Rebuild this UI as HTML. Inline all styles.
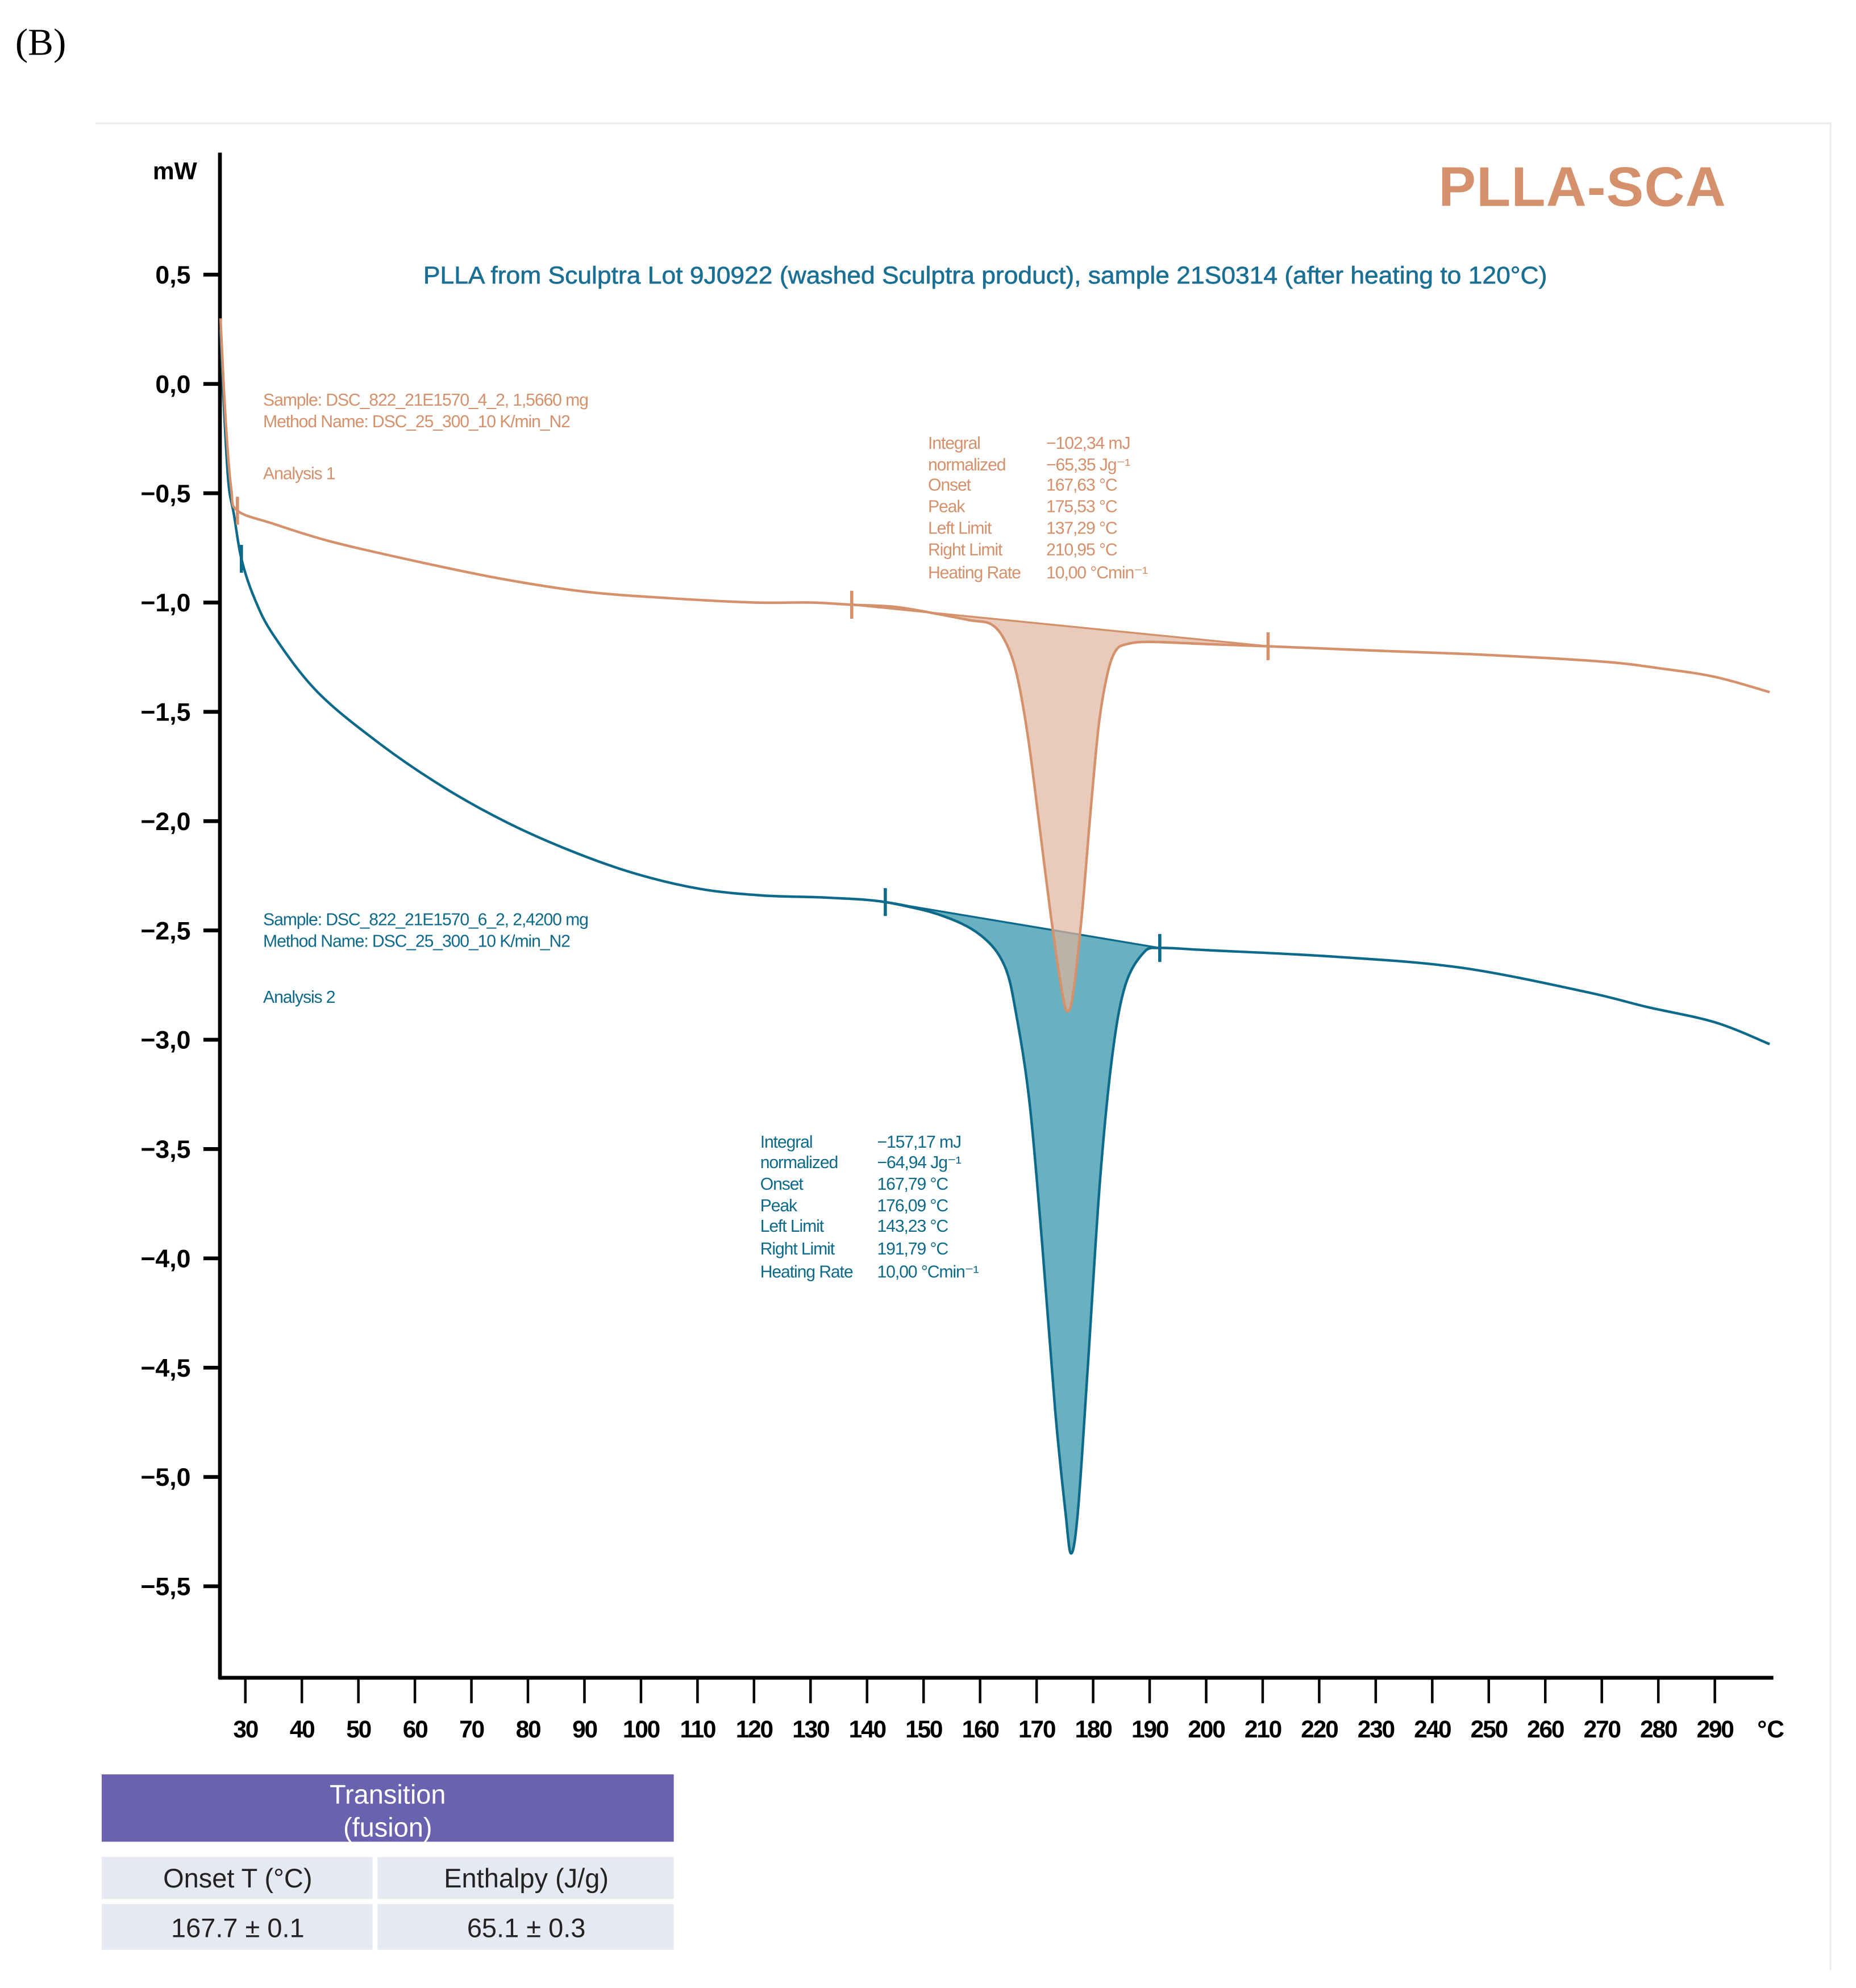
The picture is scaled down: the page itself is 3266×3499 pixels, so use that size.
<!DOCTYPE html>
<html><head><meta charset="utf-8"><style>
html,body{margin:0;padding:0;background:#fff;}
svg{display:block;}
text{font-family:"Liberation Sans",sans-serif;}
</style></head><body>
<svg id="chart" width="3266" height="3499" viewBox="0 0 1460 1564" xmlns="http://www.w3.org/2000/svg">
<text x="12" y="43" font-size="30" style="font-family:'Liberation Serif',serif">(B)</text>
<path d="M75 97 H1440 V1550" fill="none" stroke="#eeeeee" stroke-width="1.5"/>
<text x="1358" y="162" text-anchor="end" font-size="44" font-weight="bold" fill="#d4916b" letter-spacing="0.5">PLLA-SCA</text>
<text x="775" y="223" text-anchor="middle" font-size="19" fill="#1a6f94" stroke="#1a6f94" stroke-width="0.3" textLength="884" lengthAdjust="spacingAndGlyphs">PLLA from Sculptra Lot 9J0922 (washed Sculptra product), sample 21S0314 (after heating to 120°C)</text>
<g id="axes"></g>
<g id="series"></g>
<g font-size="13.5" fill="#d4916b" letter-spacing="-0.5">
<text x="207" y="319">Sample: DSC_822_21E1570_4_2, 1,5660 mg</text>
<text x="207" y="336">Method Name: DSC_25_300_10 K/min_N2</text>
<text x="207" y="377">Analysis 1</text>
</g>
<g font-size="13.5" fill="#d4916b" letter-spacing="-0.5">
<text x="730" y="353">Integral</text><text x="823" y="353">−102,34 mJ</text>
<text x="730" y="370">normalized</text><text x="823" y="370">−65,35 Jg⁻¹</text>
<text x="730" y="386">Onset</text><text x="823" y="386">167,63 °C</text>
<text x="730" y="403">Peak</text><text x="823" y="403">175,53 °C</text>
<text x="730" y="420">Left Limit</text><text x="823" y="420">137,29 °C</text>
<text x="730" y="437">Right Limit</text><text x="823" y="437">210,95 °C</text>
<text x="730" y="455">Heating Rate</text><text x="823" y="455">10,00 °Cmin⁻¹</text>
</g>
<g font-size="13.5" fill="#0e6a8a" letter-spacing="-0.5">
<text x="207" y="728">Sample: DSC_822_21E1570_6_2, 2,4200 mg</text>
<text x="207" y="745">Method Name: DSC_25_300_10 K/min_N2</text>
<text x="207" y="789">Analysis 2</text>
</g>
<g font-size="13.5" fill="#0e6a8a" letter-spacing="-0.5">
<text x="598" y="903">Integral</text><text x="690" y="903">−157,17 mJ</text>
<text x="598" y="919">normalized</text><text x="690" y="919">−64,94 Jg⁻¹</text>
<text x="598" y="936">Onset</text><text x="690" y="936">167,79 °C</text>
<text x="598" y="953">Peak</text><text x="690" y="953">176,09 °C</text>
<text x="598" y="969">Left Limit</text><text x="690" y="969">143,23 °C</text>
<text x="598" y="987">Right Limit</text><text x="690" y="987">191,79 °C</text>
<text x="598" y="1005">Heating Rate</text><text x="690" y="1005">10,00 °Cmin⁻¹</text>
</g>
<g>
<rect x="80" y="1396" width="450" height="53" fill="#6a62ae"/>
<text x="305" y="1419" text-anchor="middle" font-size="21" fill="#fff">Transition</text>
<text x="305" y="1445" text-anchor="middle" font-size="21" fill="#fff">(fusion)</text>
<rect x="80" y="1461" width="213" height="33" fill="#e6e8f2"/>
<rect x="297" y="1461" width="233" height="33" fill="#e6e8f2"/>
<rect x="80" y="1498" width="213" height="36" fill="#e6e8f2"/>
<rect x="297" y="1498" width="233" height="36" fill="#e6e8f2"/>
<text x="187" y="1485" text-anchor="middle" font-size="21" fill="#222">Onset T (°C)</text>
<text x="414" y="1485" text-anchor="middle" font-size="21" fill="#222">Enthalpy (J/g)</text>
<text x="187" y="1524" text-anchor="middle" font-size="21" fill="#222">167.7 ± 0.1</text>
<text x="414" y="1524" text-anchor="middle" font-size="21" fill="#222">65.1 ± 0.3</text>
</g>
</svg>
<script>
const yTicks=[0.5,0,-0.5,-1,-1.5,-2,-2.5,-3,-3.5,-4,-4.5,-5,-5.5];
const xTicks=[30,40,50,60,70,80,90,100,110,120,130,140,150,160,170,180,190,200,210,220,230,240,250,260,270,280,290];
const t1=[25.6,26.5,27.5,28.6,35,45,60,75,90,105,120,130,137.3,145,152,158,162,164.5,166.5,168.5,170.5,172.5,174.5,175.5,176.5,178,179.5,181,182.5,184,186,190,200,211,230,250,270,280,290,299.7];
const v1=[0.30,-0.16,-0.48,-0.58,-0.64,-0.72,-0.81,-0.89,-0.95,-0.98,-1.00,-1.00,-1.01,-1.02,-1.05,-1.08,-1.10,-1.18,-1.33,-1.62,-2.02,-2.43,-2.78,-2.87,-2.78,-2.43,-1.97,-1.56,-1.33,-1.22,-1.19,-1.18,-1.19,-1.20,-1.22,-1.24,-1.27,-1.30,-1.34,-1.41];
const t2=[25.6,26.2,27,28,29.3,31.6,35,42.8,54,65.4,76.6,88,99,110.5,121.5,133,143.2,153,160,164.3,166.5,168.8,171,173.3,175.1,176.1,177.3,179,181.2,183.4,185.7,189,191.8,200,222.7,245,267,278,290,299.7];
const v2=[0.25,-0.10,-0.45,-0.60,-0.80,-0.98,-1.15,-1.41,-1.65,-1.85,-2.01,-2.14,-2.24,-2.31,-2.34,-2.35,-2.37,-2.43,-2.52,-2.66,-2.90,-3.30,-3.94,-4.70,-5.16,-5.35,-5.16,-4.52,-3.65,-3.07,-2.75,-2.60,-2.58,-2.59,-2.62,-2.67,-2.78,-2.85,-2.92,-3.02];
const limits1=[28.6,137.29,210.95];
const limits2=[29.3,143.23,191.79];
const peakRange1=[137.29,210.95];
const peakRange2=[143.23,191.79];

const NS='http://www.w3.org/2000/svg';
const X=t=>193+(t-30)*4.446;
const Y=v=>302-v*172;
function mk(tag,attrs,parent){const e=document.createElementNS(NS,tag);for(const k in attrs)e.setAttribute(k,attrs[k]);parent.appendChild(e);return e;}
const axes=document.getElementById('axes'), ser=document.getElementById('series');

let a=mk('line',{x1:173,y1:120,x2:173,y2:1321,stroke:'#000','stroke-width':3},axes);


a=mk('line',{x1:172,y1:1320,x2:1395,y2:1320,stroke:'#000','stroke-width':3},axes);


let u=mk('text',{x:155,y:141,'text-anchor':'end','font-size':19,'font-weight':'bold'},axes);u.textContent='mW';


yTicks.forEach(v=>{
  const tk=mk('line',{x1:160,y1:Y(v),x2:173,y2:Y(v),stroke:'#000','stroke-width':3},axes);
  
  
  const lb=mk('text',{x:150,y:Y(v)+7,'text-anchor':'end','font-size':20,'font-weight':'bold'},axes);
  lb.textContent=(v<0?'\u2212':'')+Math.abs(v).toFixed(1).replace('.',',');
  
  
});
xTicks.forEach(t=>{
  const tk=mk('line',{x1:X(t),y1:1320,x2:X(t),y2:1340,stroke:'#000','stroke-width':2},axes);
  
  
  const lb=mk('text',{x:X(t),y:1367,'text-anchor':'middle','font-size':19,'font-weight':'bold','letter-spacing':'-1'},axes);
  lb.textContent=String(t);
  
  
});
u=mk('text',{x:1393,y:1367,'text-anchor':'middle','font-size':19,'font-weight':'bold'},axes);u.textContent='°C';



function interp(ts,vs,t){for(let i=0;i<ts.length-1;i++){if(t>=ts[i]&&t<=ts[i+1]){const f=(t-ts[i])/(ts[i+1]-ts[i]);return vs[i]+f*(vs[i+1]-vs[i]);}}return vs[vs.length-1];}
function smooth(pts){
  let d='M'+pts[0][0]+' '+pts[0][1];
  for(let i=0;i<pts.length-1;i++){
    const p0=pts[Math.max(0,i-1)],p1=pts[i],p2=pts[i+1],p3=pts[Math.min(pts.length-1,i+2)];
    const c1=[p1[0]+(p2[0]-p0[0])/6,p1[1]+(p2[1]-p0[1])/6];
    const c2=[p2[0]-(p3[0]-p1[0])/6,p2[1]-(p3[1]-p1[1])/6];
    d+=' C'+c1[0]+' '+c1[1]+' '+c2[0]+' '+c2[1]+' '+p2[0]+' '+p2[1];
  }
  return d;
}
function fillPath(ts,vs,rng){
  const a0=interp(ts,vs,rng[0]),a1=interp(ts,vs,rng[1]);
  const pts=[[X(rng[0]),Y(a0)]];
  for(let i=0;i<ts.length;i++){if(ts[i]>rng[0]&&ts[i]<rng[1])pts.push([X(ts[i]),Y(vs[i])]);}
  pts.push([X(rng[1]),Y(a1)]);
  return smooth(pts)+' Z';
}
function linePath(ts,vs){return smooth(ts.map((t,i)=>[X(t),Y(vs[i])]));}
function markers(ts,vs,lims,col,name){lims.forEach(t=>{const v=interp(ts,vs,t);const m=mk('line',{x1:X(t),y1:Y(v)-11,x2:X(t),y2:Y(v)+11,stroke:col,'stroke-width':2.5},ser);
  
  });}

let f=mk('path',{d:fillPath(t2,v2,peakRange2),fill:'#69b0c0',stroke:'#0e6a8a','stroke-width':1.5,'stroke-linejoin':'round'},ser);


let l=mk('path',{d:linePath(t2,v2),fill:'none',stroke:'#0e6a8a','stroke-width':2,'stroke-linejoin':'round'},ser);


markers(t2,v2,limits2,'#0e6a8a','limit-marker-analysis-2');
f=mk('path',{d:fillPath(t1,v1,peakRange1),fill:'#e0b59e','fill-opacity':0.7,stroke:'#d4916b','stroke-width':1.5,'stroke-linejoin':'round'},ser);


l=mk('path',{d:linePath(t1,v1),fill:'none',stroke:'#d4916b','stroke-width':2,'stroke-linejoin':'round'},ser);


markers(t1,v1,limits1,'#d4916b','limit-marker-analysis-1');
</script>
</body></html>
